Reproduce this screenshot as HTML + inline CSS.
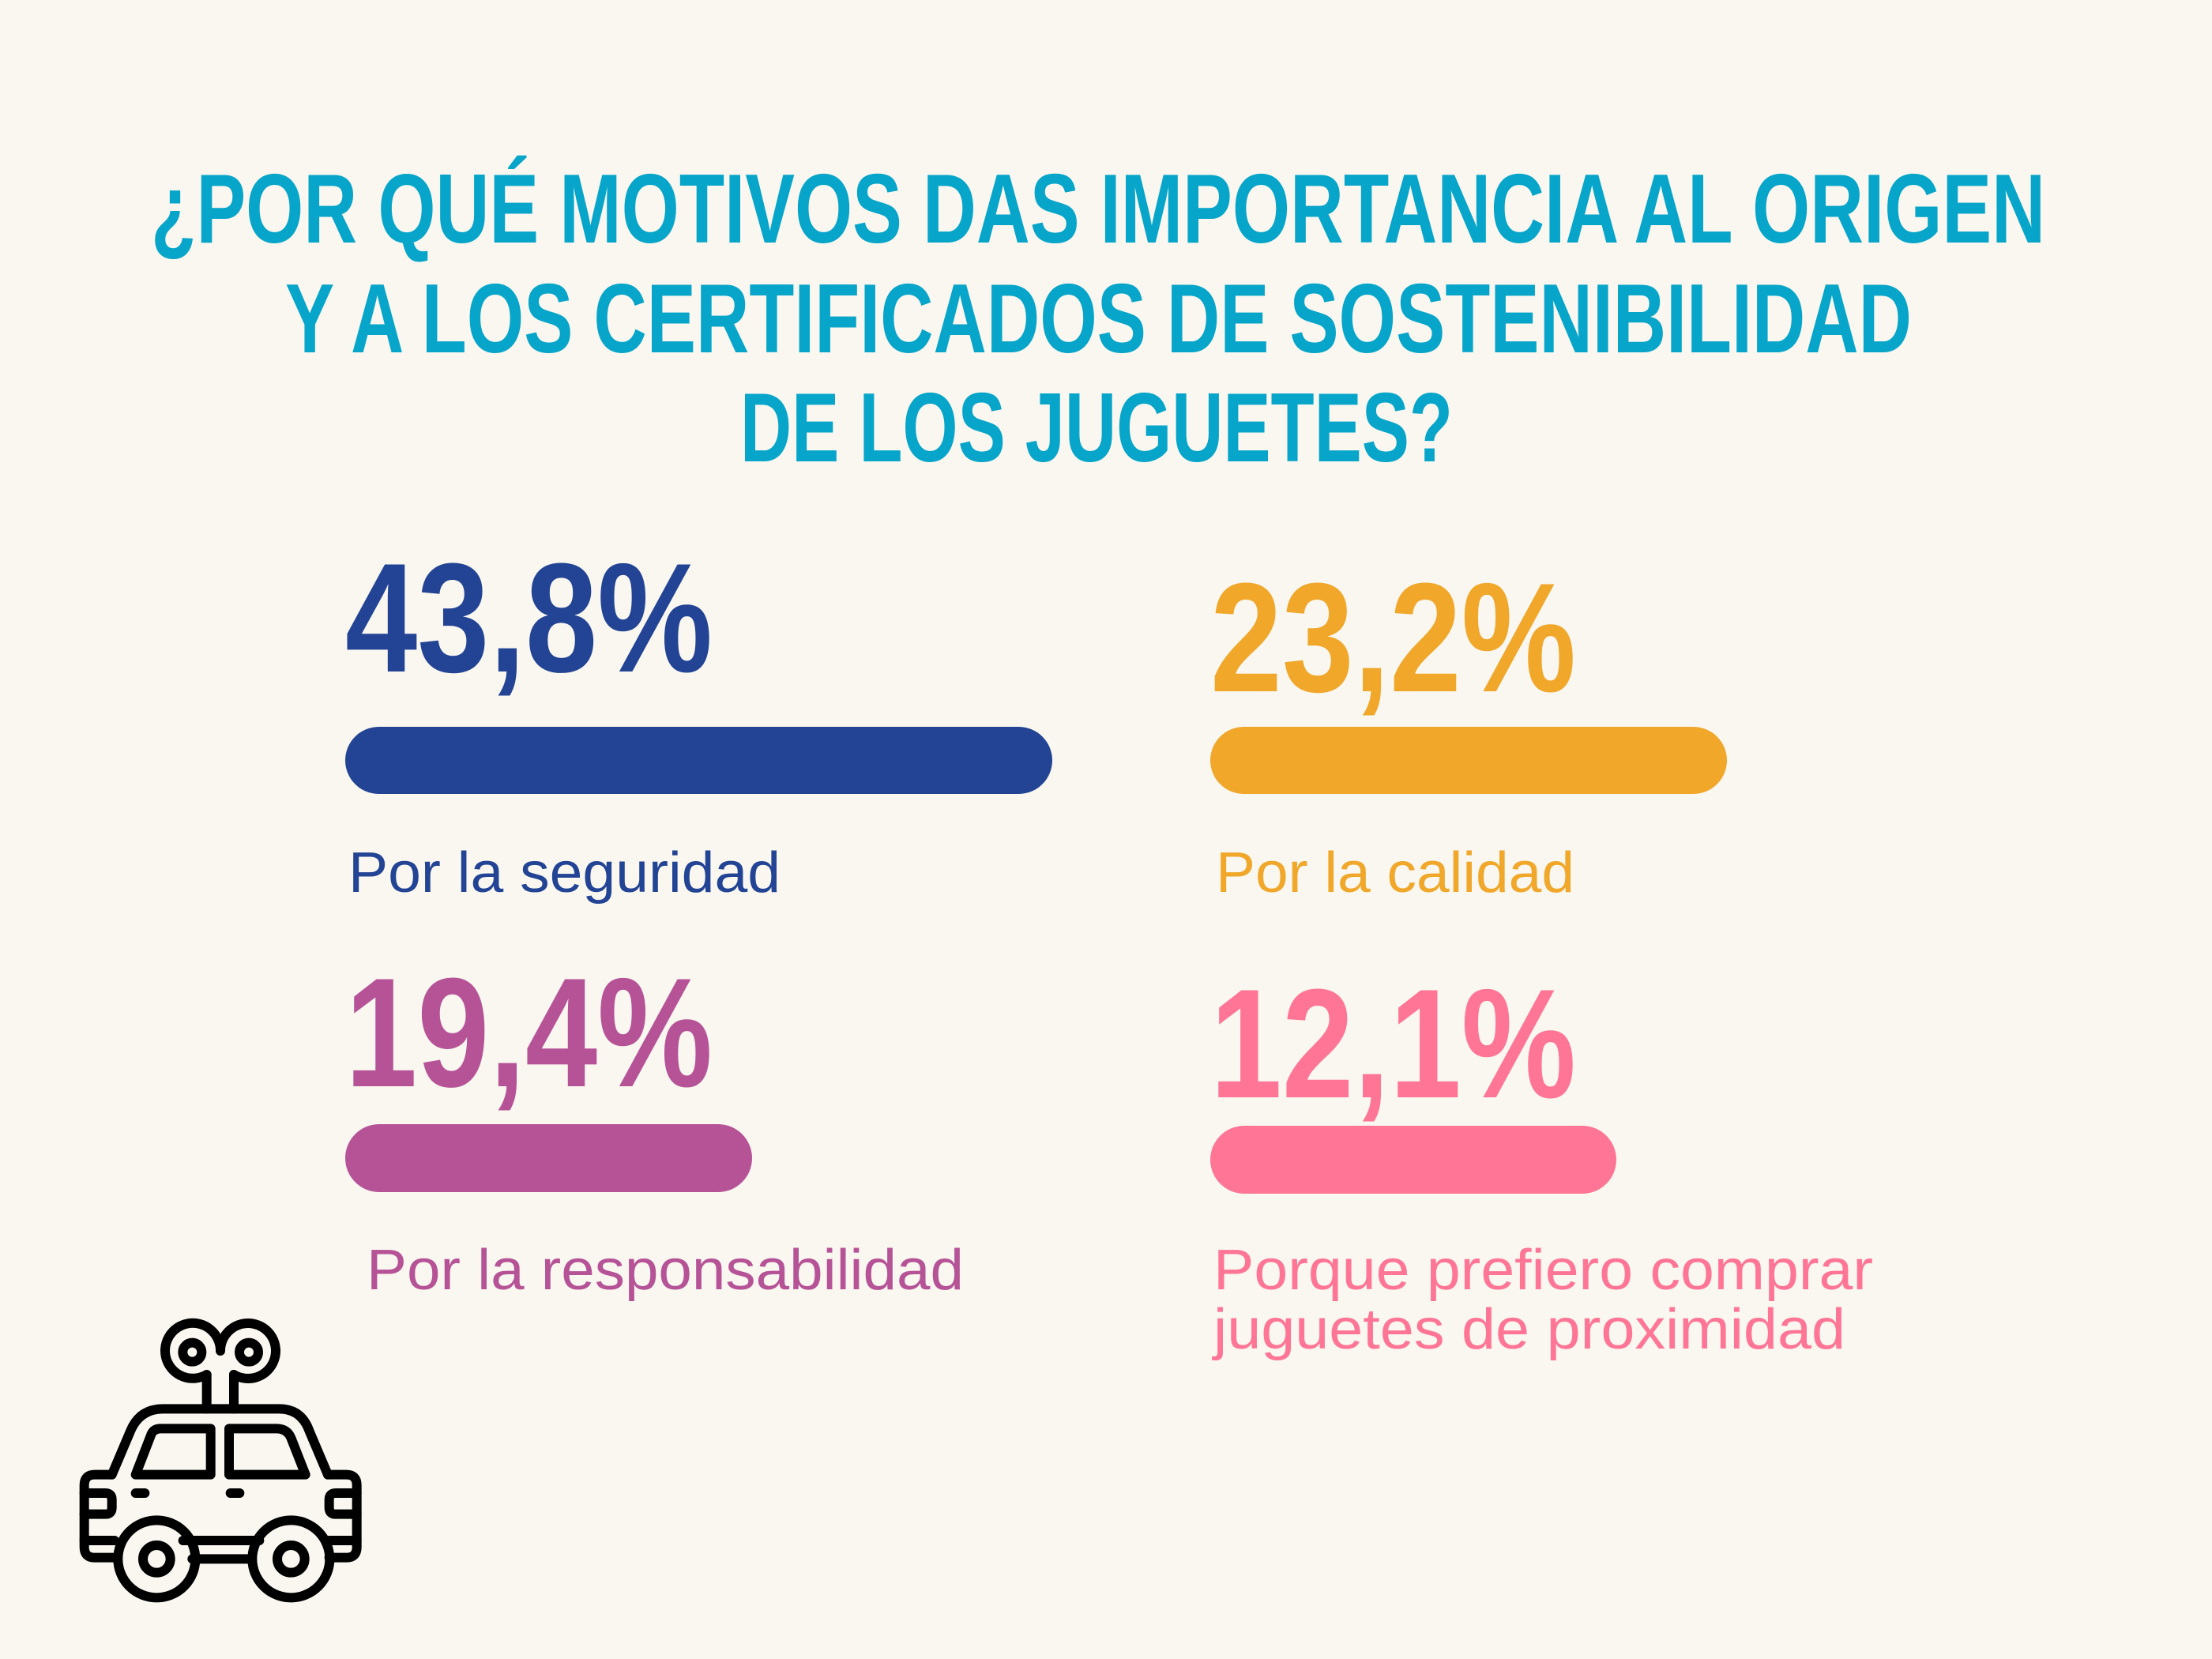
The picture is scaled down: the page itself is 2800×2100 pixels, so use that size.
<!DOCTYPE html>
<html><head><meta charset="utf-8"><style>
html,body{margin:0;padding:0;background:#f9f7f0;}
svg{display:block}
text{font-family:"Liberation Sans Narrow","Liberation Sans",sans-serif;}
</style></head><body>
<svg width="2800" height="2100" viewBox="0 0 2800 2100" xmlns="http://www.w3.org/2000/svg">
<rect width="2800" height="2100" fill="#f9f7f0"/>
<g fill="#06a5c9" font-weight="bold" font-size="124">
<text x="191" y="307" textLength="2398" lengthAdjust="spacingAndGlyphs">¿POR QUÉ MOTIVOS DAS IMPORTANCIA AL ORIGEN</text>
<text x="361" y="446" textLength="2059" lengthAdjust="spacingAndGlyphs">Y A LOS CERTIFICADOS DE SOSTENIBILIDAD</text>
<text x="937" y="584" textLength="902" lengthAdjust="spacingAndGlyphs">DE LOS JUGUETES?</text>
</g>
<g font-weight="bold" font-size="197">
<text x="437" y="850" fill="#234494" textLength="465" lengthAdjust="spacingAndGlyphs">43,8%</text>
<text x="1532" y="875" fill="#f0a72a" textLength="463" lengthAdjust="spacingAndGlyphs">23,2%</text>
<text x="437" y="1375" fill="#b65397" textLength="465" lengthAdjust="spacingAndGlyphs">19,4%</text>
<text x="1532" y="1389" fill="#ff7596" textLength="463" lengthAdjust="spacingAndGlyphs">12,1%</text>
</g>
<rect x="437" y="920" width="895" height="85" rx="42.5" fill="#234494"/>
<rect x="1532" y="920" width="654" height="85" rx="42.5" fill="#f0a72a"/>
<rect x="437" y="1423" width="515" height="86" rx="43" fill="#b65397"/>
<rect x="1532" y="1425" width="514" height="86" rx="43" fill="#ff7596"/>
<g font-size="72">
<text x="441" y="1129" fill="#234494" textLength="547" lengthAdjust="spacingAndGlyphs">Por la seguridad</text>
<text x="1539" y="1129" fill="#f0a72a" textLength="454" lengthAdjust="spacingAndGlyphs">Por la calidad</text>
<text x="464" y="1632" fill="#b65397" textLength="756" lengthAdjust="spacingAndGlyphs">Por la responsabilidad</text>
<text x="1536" y="1632" fill="#ff7596" textLength="835" lengthAdjust="spacingAndGlyphs">Porque prefiero comprar</text>
<text x="1536" y="1707" fill="#ff7596" textLength="800" lengthAdjust="spacingAndGlyphs">juguetes de proximidad</text>
</g>
<g transform="translate(80,1640) scale(0.33333)" fill="none" stroke="#000" stroke-width="36" stroke-linecap="round" stroke-linejoin="round">
<path d="M185 680 L255 515 Q290 430 380 430 L820 430 Q905 430 935 515 L1005 680"/>
<path d="M195 995 L120 995 Q80 995 80 955 L80 720 Q80 680 120 680 L185 680"/>
<path d="M1005 680 L1075 680 Q1115 680 1115 720 L1115 955 Q1115 995 1075 995 L1010 995"/>
<path d="M80 930 L195 930 M1010 930 L1115 930"/>
<path d="M455 930 L745 930 M490 1000 L710 1000"/>
<circle cx="355" cy="1000" r="147"/><circle cx="355" cy="1000" r="52"/>
<circle cx="865" cy="1000" r="147"/><circle cx="865" cy="1000" r="52"/>
<path d="M275 680 L335 525 Q345 505 370 505 L560 505 L560 680 Z"/>
<path d="M630 505 L810 505 Q850 505 865 540 L920 680 L630 680 Z"/>
<path d="M275 750 L310 750 M635 750 L670 750"/>
<path d="M80 750 L160 750 Q185 750 185 775 L185 805 Q185 830 160 830 L80 830"/>
<path d="M1115 750 L1035 750 Q1010 750 1010 775 L1010 805 Q1010 830 1035 830 L1115 830"/>
<path d="M545 300 L545 430 M648 300 L648 430"/>
<path d="M545 300 A105 105 0 1 1 597 210 A105 105 0 1 1 648 300"/>
<circle cx="490" cy="215" r="36"/><circle cx="705" cy="215" r="36"/>
</g>
</svg>
</body></html>
